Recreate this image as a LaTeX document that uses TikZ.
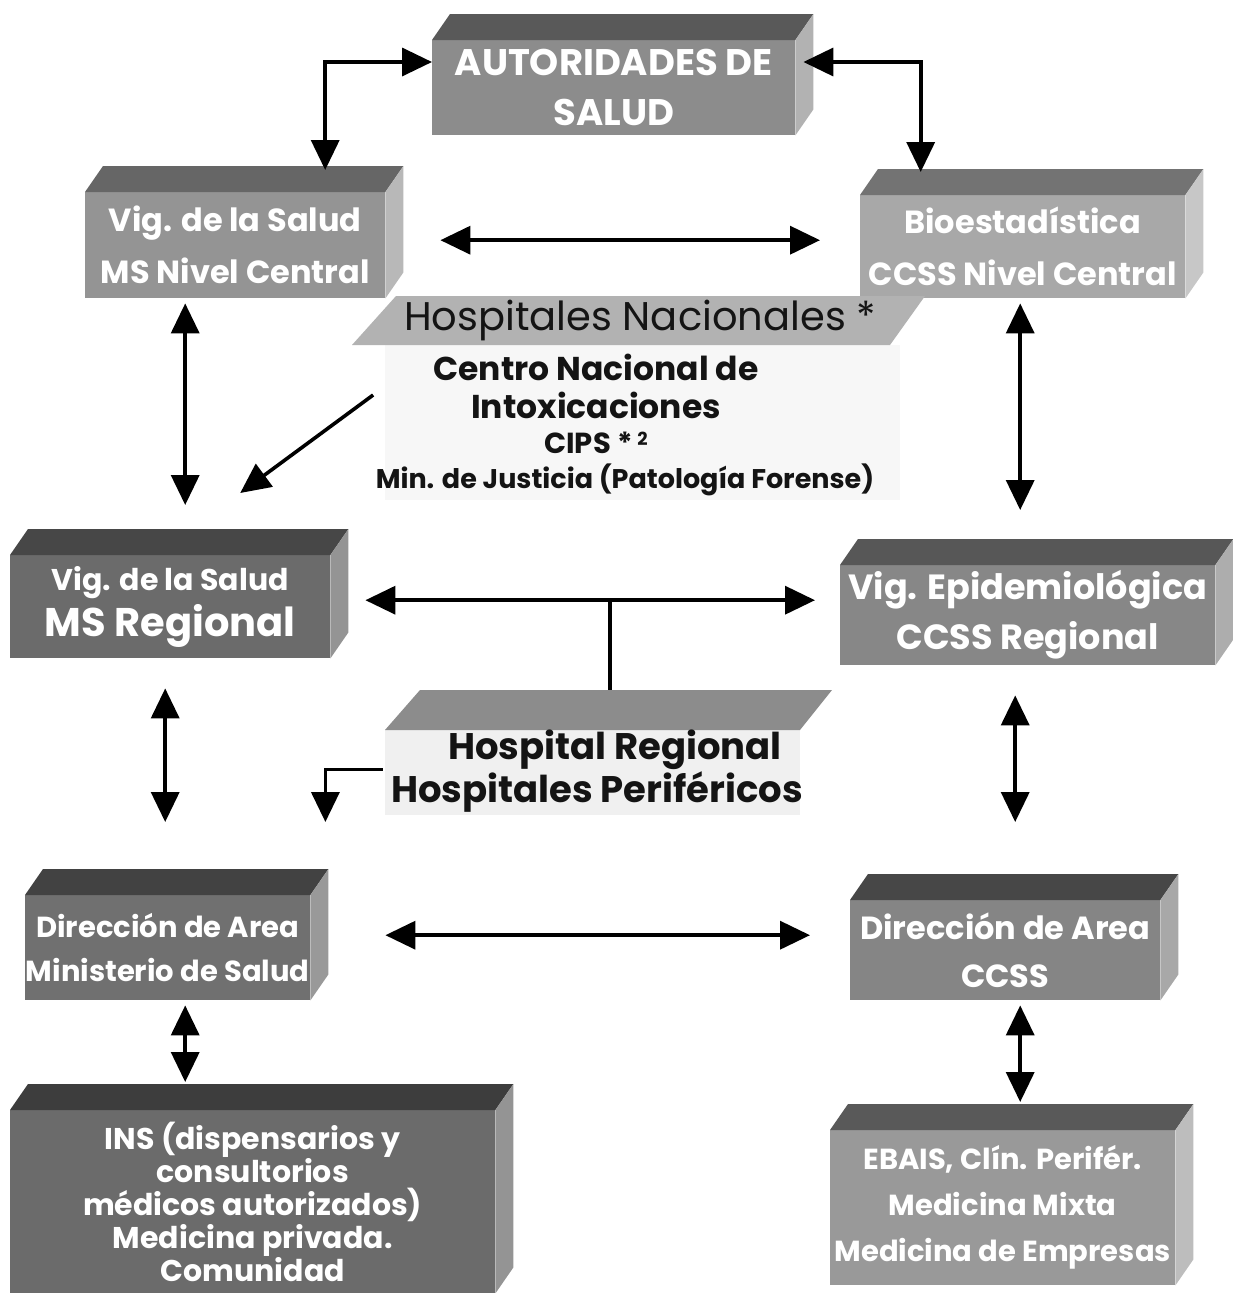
\documentclass[tikz,border=0pt]{standalone}
\usepackage{fontspec}
\setmainfont{Poppins}
\usetikzlibrary{arrows.meta,calc}
\definecolor{txtdark}{gray}{0.08}
\newcommand\blockfaces[3]{%
  \fill[#2] (#1.north west) -- ++(18,-26) -- ($(#1.north east)+(18,-26)$) -- (#1.north east) -- cycle;
  \fill[#3] (#1.north east) -- ++(18,-26) -- ($(#1.south east)+(18,-26)$) -- (#1.south east) -- cycle;}
\tikzset{
  blockbox/.style={fill=#1, text=white, align=center, inner sep=0pt, anchor=north west},
  link/.style={line width=3.6pt, -{Triangle[length=30pt,width=28pt]}},
  dbl/.style={line width=3.6pt, {Triangle[length=30pt,width=28pt]}-{Triangle[length=30pt,width=28pt]}},
  plain/.style={line width=3.2pt},
  bandtext/.style={text=txtdark, inner sep=0pt, align=center}
}
\begin{document}
\begin{tikzpicture}[x=1pt,y=-1pt]
\useasboundingbox[fill=white] (0,0) rectangle (1232,1293);

% ---------- blocks ----------
\node[blockbox={black!45}, minimum width=363pt, minimum height=95pt,
      font=\bfseries\fontsize{37}{50}\selectfont] (auth) at (432,40) {AUTORIDADES DE\\SALUD};
\blockfaces{auth}{black!65}{black!30}

\node[blockbox={black!42}, minimum width=300pt, minimum height=106pt,
      font=\bfseries\fontsize{32}{52}\selectfont] (vigc) at (85,192) {Vig. de la Salud\\MS Nivel Central};
\blockfaces{vigc}{black!60}{black!28}

\node[blockbox={black!34}, minimum width=325pt, minimum height=103pt,
      font=\bfseries\fontsize{32}{52}\selectfont] (bio) at (860,195) {Bioestadística\\CCSS Nivel Central};
\blockfaces{bio}{black!55}{black!22}

\node[blockbox={black!58}, minimum width=320pt, minimum height=103pt,
      font=\bfseries\fontsize{30}{46}\selectfont] (vigr) at (10,555) {Vig. de la Salud\\{\fontsize{40}{46}\selectfont MS Regional}};
\blockfaces{vigr}{black!72}{black!42}

\node[blockbox={black!47}, minimum width=375pt, minimum height=100pt,
      font=\bfseries\fontsize{35}{50}\selectfont] (epi) at (840,565) {Vig. Epidemiológica\\CCSS Regional};
\blockfaces{epi}{black!66}{black!32}

\node[blockbox={black!56}, minimum width=285pt, minimum height=105pt,
      font=\bfseries\fontsize{29}{44}\selectfont] (dirms) at (25,895) {Dirección de Area\\Ministerio de Salud};
\blockfaces{dirms}{black!74}{black!40}

\node[blockbox={black!48}, minimum width=310pt, minimum height=100pt,
      font=\bfseries\fontsize{32}{48}\selectfont] (dircc) at (850,900) {Dirección de Area\\CCSS};
\blockfaces{dircc}{black!72}{black!34}

\node[blockbox={black!58}, minimum width=485pt, minimum height=183pt,
      font=\bfseries\fontsize{30}{33}\selectfont] (ins) at (10,1110) {INS (dispensarios y\\consultorios\\médicos autorizados)\\Medicina privada.\\Comunidad};
\blockfaces{ins}{black!76}{black!42}

\node[blockbox={black!40}, minimum width=345pt, minimum height=155pt,
      font=\bfseries\fontsize{29}{46}\selectfont] (ebais) at (830,1130) {EBAIS, Clín. Perifér.\\Medicina Mixta\\Medicina de Empresas};
\blockfaces{ebais}{black!65}{black!26}

% ---------- Hospitales Nacionales ----------
\fill[black!3] (385,345) rectangle (900,500);
\fill[black!30] (352,345) -- (396,296) -- (925,296) -- (890,345) -- cycle;
\node[bandtext, font=\fontsize{40}{44}\selectfont] (hn) at (640,320) {Hospitales Nacionales *};
\node[bandtext, font=\bfseries\fontsize{33}{36}\selectfont] (cn1) at (596,367) {Centro Nacional de};
\node[bandtext, font=\bfseries\fontsize{33}{36}\selectfont] (cn2) at (596,405) {Intoxicaciones};
\node[bandtext, font=\bfseries\fontsize{29}{32}\selectfont] (cips) at (596,443) {CIPS *\,\raisebox{0.5ex}{\fontsize{18}{20}\selectfont 2}};
\node[bandtext, font=\bfseries\fontsize{27}{30}\selectfont] (minj) at (625,480) {Min. de Justicia (Patología Forense)};

% ---------- Hospital Regional ----------
\fill[black!6] (385,730) rectangle (800,815);
\fill[black!45] (385,730) -- (420,690) -- (832,690) -- (800,730) -- cycle;
\node[bandtext, font=\bfseries\fontsize{37}{40}\selectfont] (hr1) at (615,750) {Hospital Regional};
\node[bandtext, font=\bfseries\fontsize{37}{40}\selectfont] (hr2) at (597,792) {Hospitales Periféricos};

% ---------- connectors ----------
\draw[dbl] ($(auth.north west)+(0,22)$) -| ($(vigc.north)+(90,-22)$);
\draw[dbl] ($(auth.north east)+(8,22)$) -| ($(bio.north)+(-102,-23)$);
\draw[dbl] ($(vigc.east)+(55,-5)$) -- ($(bio.west)+(-40,-6.5)$);
\draw[dbl] ($(vigc.south)+(-50,5)$) -- ($(vigr.north)+(15,-50)$);
\draw[dbl] ($(bio.south)+(-2.5,5)$) -- ($(epi.north)+(-7.5,-55)$);
\coordinate (dstart) at ($(cn1.west)+(-60,28)$);
\draw[link] (dstart) -- ($(vigr.north)+(70,-62)$);
\draw[dbl] ($(vigr.east)+(35,-6.5)$) -- ($(epi.west)+(-25,-15)$);
\coordinate (hrtop) at (610,690);
\draw[plain] (hrtop |- 0,600) -- (hrtop);
\coordinate (hrl) at ($(hr2.north west)+(-8,-2)$);
\draw[link] (hrl) -| ($(dirms.north east)+(15,-73)$);
\draw[dbl] ($(vigr.south)+(-5,30)$) -- ($(dirms.north)+(-2.5,-73)$);
\draw[dbl] ($(epi.south)+(-12.5,30)$) -- ($(dircc.north)+(10,-78)$);
\draw[dbl] ($(dirms.east)+(75,-12.5)$) -- ($(dircc.west)+(-40,-15)$);
\draw[dbl] ($(dirms.south)+(17.5,5)$) -- ($(ins.north)+(-67.5,-28)$);
\draw[dbl] ($(dircc.south)+(15,5)$) -- ($(ebais.north)+(17.5,-28)$);
\end{tikzpicture}
\end{document}
